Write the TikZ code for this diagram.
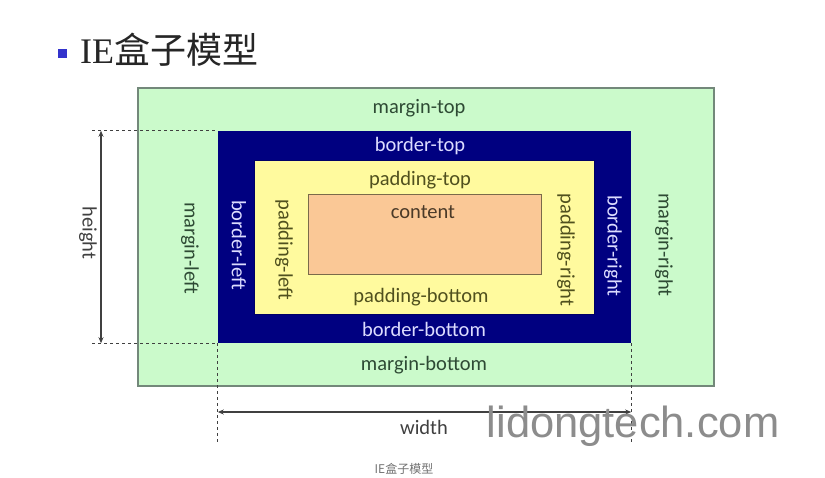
\documentclass[tikz,border=0pt]{standalone}
\usepackage{fontspec}
\setmainfont{Carlito}
\newfontfamily\cjkfont{Noto Sans CJK SC}
\newfontfamily\titlefont{Liberation Serif}
\newfontfamily\markfont{Liberation Sans}
\usetikzlibrary{arrows.meta}
\definecolor{marginfill}{HTML}{CBFACB}
\definecolor{margindraw}{HTML}{73887A}
\definecolor{marginText}{HTML}{2E4A34}
\definecolor{borderfill}{HTML}{000080}
\definecolor{borderText}{HTML}{DCDCFF}
\definecolor{paddingfill}{HTML}{FFFA9E}
\definecolor{paddingText}{HTML}{50501E}
\definecolor{contentfill}{HTML}{FAC896}
\definecolor{contentdraw}{HTML}{7A6A4A}
\definecolor{contentText}{HTML}{4A3A28}
\definecolor{dimgray}{HTML}{404040}
\definecolor{bulletblue}{HTML}{3333CC}
\begin{document}
\begin{tikzpicture}[x=1pt,y=-1pt, >={Stealth[length=6pt,width=5pt]},
every node/.style={font=\fontsize{20.5}{22}\selectfont, inner sep=0pt},
layer/.style={minimum width=#1, anchor=center},
lbl/.style={text=#1},
vlbl/.style={text=#1, rotate=-90},
dimarr/.style={<->, line width=1.3pt, draw=dimgray},
dimline/.style={dashed, line width=1.1pt, draw=dimgray, dash pattern=on 3pt off 3pt}]
\useasboundingbox[fill=white] (0,0) rectangle (825,478);
% title
\node[fill=bulletblue, minimum size=9pt] (bullet) at (62,54) {};
\node[anchor=west, text=black!85, font=\fontsize{36}{38}\selectfont] (title) at (80,50) {\titlefont IE\cjkfont 盒子模型};
% nested boxes
\node[layer=576pt, minimum height=298pt, fill=marginfill, draw=margindraw, line width=1.5pt] (margin) at (426,237) {};
\node[layer=413pt, minimum height=212pt, fill=borderfill] (border) at (424.5,237) {};
\node[layer=340pt, minimum height=154pt, fill=paddingfill, draw=borderfill!80!black, line width=0.6pt] (padding) at (424,237) {};
\node[layer=233pt, minimum height=80pt, fill=contentfill, draw=contentdraw, line width=1pt] (content) at (424.5,235) {};
% labels
\node[lbl=marginText] (mtop) at (419,108) {margin-top};
\node[lbl=borderText] (btop) at (420,146) {border-top};
\node[lbl=paddingText] (ptop) at (420,180) {padding-top};
\node[lbl=contentText] (ctext) at (423,212) {content};
\node[lbl=paddingText] (pbot) at (421,297) {padding-bottom};
\node[lbl=borderText] (bbot) at (424,329) {border-bottom};
\node[lbl=marginText] (mbot) at (424,365) {margin-bottom};
\node[vlbl=marginText] (mleft) at (190,248) {margin-left};
\node[vlbl=borderText] (bleft) at (239,245) {border-left};
\node[vlbl=paddingText] (pleft) at (284,250) {padding-left};
\node[vlbl=paddingText] (pright) at (566,250) {padding-right};
\node[vlbl=borderText] (bright) at (613,246) {border-right};
\node[vlbl=marginText] (mright) at (664,245) {margin-right};
% height
\coordinate (hx) at (101,0);
\coordinate (hl) at (92,0);
\draw[dimline] (hl |- border.north) -- (border.north west);
\draw[dimline] (hl |- border.south) -- (border.south west);
\draw[dimarr] (hx |- border.north) -- (hx |- border.south);
\node[vlbl=dimgray] (hlabel) at (88,233) {height};
% width
\coordinate (wy) at (0,412);
\coordinate (wb) at (0,445);
\draw[dimline] (border.south west) -- (border.south west |- wb);
\draw[dimline] (border.south east) -- (border.south east |- wb);
\draw[dimarr] (border.west |- wy) -- (border.east |- wy);
\node[lbl=dimgray] (wlabel) at (424,427) {width};
% watermark and caption
\node[text=black!45, font=\fontsize{43.5}{45}\selectfont\markfont] (mark) at (633,426) {lidongtech.com};
\node[text=black!55, font=\fontsize{12}{13}\selectfont\cjkfont, anchor=north] (caption) at (404,463) {IE盒子模型};
\end{tikzpicture}
\end{document}
